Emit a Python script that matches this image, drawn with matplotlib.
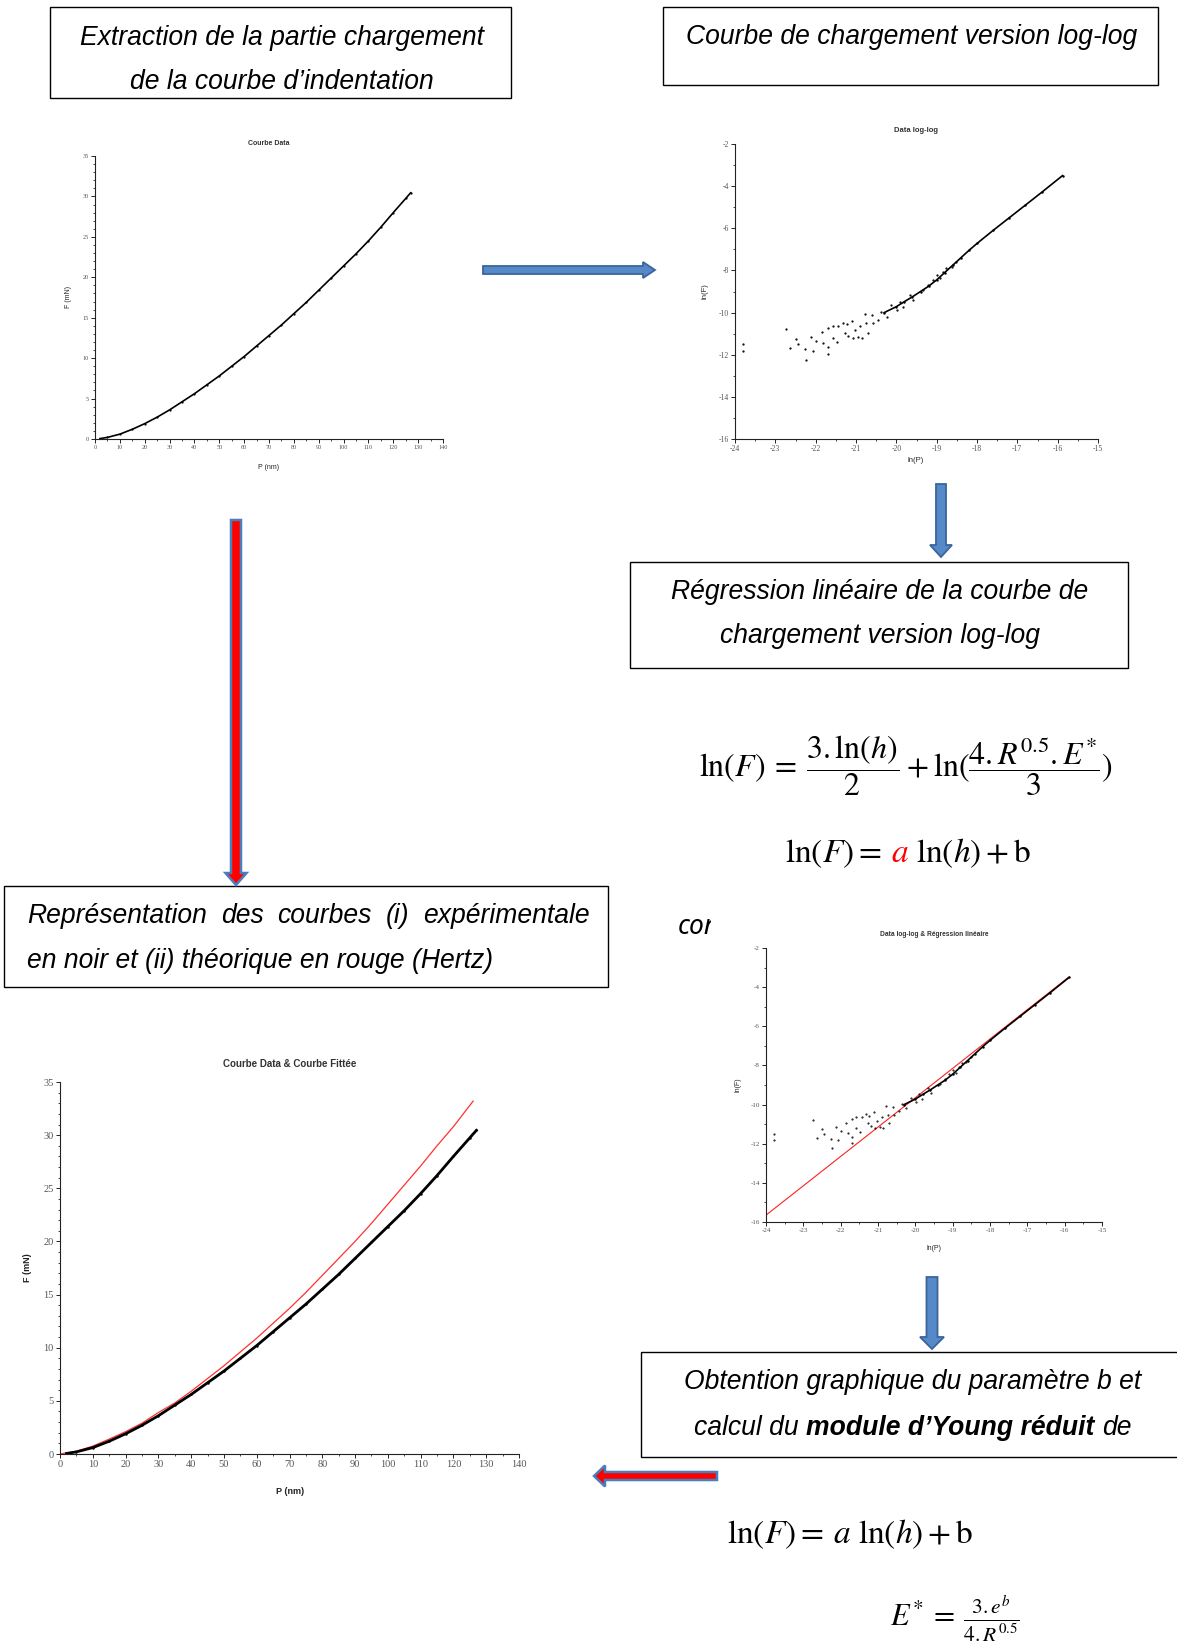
import matplotlib
matplotlib.use("Agg")
import matplotlib.pyplot as plt
import numpy as np
from matplotlib.patches import Rectangle, Polygon
from matplotlib.ticker import MultipleLocator

# ---- données ----
# courbe de chargement (P en nm, F en mN)
p_nm = [2, 5, 10, 15, 20, 25, 30, 35, 40, 45, 50, 55, 60, 65, 70, 75, 80,
        85, 90, 95, 100, 105, 110, 115, 120, 125, 127]
f_mn = [0.05, 0.2, 0.6, 1.2, 1.9, 2.7, 3.6, 4.6, 5.6, 6.7, 7.8, 9.0, 10.2,
        11.5, 12.8, 14.1, 15.5, 16.9, 18.4, 19.9, 21.4, 22.9, 24.5, 26.2,
        28.0, 29.75, 30.45]

# courbe théorique (Hertz)
p_fit = [0, 5, 10, 15, 20, 25, 30, 35, 40, 45, 50, 55, 60, 65, 70, 75, 80,
         85, 90, 95, 100, 105, 110, 115, 120, 126]
f_fit = [0, 0.26, 0.74, 1.4, 2.1, 2.9, 3.9, 4.8, 5.9, 7.1, 8.3, 9.6, 10.9,
         12.3, 13.7, 15.2, 16.8, 18.4, 20.0, 21.7, 23.5, 25.3, 27.1, 29.0,
         30.8, 33.2]

# log-log : partie dense
lnp_line = [-20.3, -20.0, -19.8, -19.6, -19.4, -19.2, -19.0, -18.8, -18.6,
            -18.4, -18.2, -18.0, -17.6, -17.2, -16.8, -16.4, -15.88]
lnf_line = [-10.0, -9.72, -9.48, -9.25, -9.0, -8.75, -8.45, -8.1, -7.75,
            -7.4, -7.05, -6.72, -6.1, -5.5, -4.9, -4.3, -3.5]

# log-log : points dispersés (faibles charges)
lnp_pts = [-23.79, -23.79, -22.74, -22.64, -22.49, -22.44, -22.24, -22.27,
           -22.12, -22.06, -21.98, -21.85, -21.81, -21.69, -21.69, -21.69,
           -21.58, -21.58, -21.48, -21.44, -21.32, -21.27, -21.23, -21.19,
           -21.11, -21.07, -21.03, -20.94, -20.9, -20.86, -20.78, -20.74,
           -20.7, -20.61, -20.57, -20.45, -20.37, -20.24, -20.12, -19.99,
           -19.91, -19.83, -19.66, -19.58, -19.33, -19.21, -19.09, -19.0,
           -18.92, -18.84, -18.76, -18.63, -18.51]
lnf_pts = [-11.5, -11.8, -10.78, -11.7, -11.26, -11.49, -12.24, -11.74,
           -11.17, -11.8, -11.33, -10.93, -11.45, -10.74, -11.64, -11.96,
           -10.63, -11.22, -11.42, -10.66, -10.48, -10.95, -10.56, -11.11,
           -10.38, -11.22, -10.82, -11.14, -10.66, -11.22, -10.07, -10.51,
           -10.95, -10.12, -10.51, -10.35, -9.95, -10.19, -9.64, -9.88,
           -9.48, -9.72, -9.17, -9.4, -8.93, -8.69, -8.46, -8.22, -8.38,
           -8.06, -7.9, -7.82, -7.59]

# droite de régression
lnp_reg = [-24.0, -15.9]
lnf_reg = [-15.65, -3.5]

plt.rcParams['font.family'] = ['Liberation Sans', 'DejaVu Sans']
plt.rcParams['mathtext.fontset'] = 'stix'
plt.rcParams['axes.unicode_minus'] = False

W, H = 1177, 1646
fig = plt.figure(figsize=(W / 100, H / 100), dpi=100)
bg = fig.add_axes([0, 0, 1, 1])
bg.set_xlim(0, W)
bg.set_ylim(H, 0)
bg.axis('off')
rend = fig.canvas.get_renderer()


def px_axes(x0, y0, x1, y1):
    return fig.add_axes([x0 / W, 1 - y1 / H, (x1 - x0) / W, (y1 - y0) / H])


def style_chart(ax, xlim, ylim, xmaj, xmin, ymaj, ymin, fs):
    ax.set_xlim(*xlim)
    ax.set_ylim(*ylim)
    ax.xaxis.set_major_locator(MultipleLocator(xmaj))
    ax.xaxis.set_minor_locator(MultipleLocator(xmin))
    ax.yaxis.set_major_locator(MultipleLocator(ymaj))
    ax.yaxis.set_minor_locator(MultipleLocator(ymin))
    for s in ('top', 'right'):
        ax.spines[s].set_visible(False)
    for s in ('left', 'bottom'):
        ax.spines[s].set_linewidth(0.8)
        ax.spines[s].set_color('#222222')
    ax.tick_params(which='major', direction='out', length=3, width=0.6,
                   labelsize=fs, labelcolor='#555555', pad=1.5,
                   labelfontfamily='Liberation Serif')
    ax.tick_params(which='minor', direction='out', length=1.6, width=0.5)


def chart_labels(cx, title_y, title, xlab_y, xlab, ylab_x, ylab_y, ylab,
                 fs_t, fs_l, bold_lab=False):
    w = 'bold' if bold_lab else 'normal'
    bg.text(cx, title_y, title, ha='center', va='center', fontsize=fs_t,
            fontweight='bold', color='#333333')
    bg.text(cx, xlab_y, xlab, ha='center', va='center', fontsize=fs_l,
            fontweight=w, color='#222222')
    bg.text(ylab_x, ylab_y, ylab, ha='center', va='center', fontsize=fs_l,
            fontweight=w, rotation=90, color='#222222')


# ---- graphe 1 : Courbe Data ----
ax1 = px_axes(95, 156, 443, 439)
ax1.plot(p_nm, f_mn, color='black', lw=1.2, marker='.', ms=1.2)
style_chart(ax1, (0, 140), (0, 35), 10, 5, 5, 1, 4.5)
chart_labels(269, 143, 'Courbe Data', 467, 'P (nm)', 68, 297, 'F (mN)', 5, 5)

# ---- graphe 2 : Data log-log ----
ax2 = px_axes(735, 144, 1098, 439)
ax2.plot(lnp_line, lnf_line, color='black', lw=1.2, marker='.', ms=1.5)
ax2.plot(lnp_pts, lnf_pts, ls='none', marker='.', ms=1.2, color='black')
style_chart(ax2, (-24, -15), (-16, -2), 1, 0.5, 2, 1, 5.5)
chart_labels(916, 130, 'Data log-log', 460, 'ln(P)', 705, 291, 'ln(F)', 5.5, 5.5)

# ---- graphe 3 : Data log-log & Régression linéaire ----
ax3 = px_axes(766, 948, 1102, 1222)
ax3.plot(lnp_reg, lnf_reg, color='#ff2020', lw=0.8)
ax3.plot(lnp_line, lnf_line, color='black', lw=1.2, marker='.', ms=1.5)
ax3.plot(lnp_pts, lnf_pts, ls='none', marker='.', ms=1.0, color='black')
style_chart(ax3, (-24, -15), (-16, -2), 1, 0.5, 2, 1, 5)
chart_labels(934, 934, 'Data log-log & Régression linéaire', 1248, 'ln(P)',
             738, 1085, 'ln(F)', 4.8, 5)

# ---- graphe 4 : Courbe Data & Courbe Fittée ----
ax4 = px_axes(60, 1082, 519, 1454)
ax4.plot(p_fit, f_fit, color='#ff3030', lw=0.9)
ax4.plot(p_nm, f_mn, color='black', lw=2.0, marker='.', ms=1.5)
style_chart(ax4, (0, 140), (0, 35), 10, 5, 5, 1, 7.5)
chart_labels(290, 1064, 'Courbe Data & Courbe Fittée', 1491, 'P (nm)',
             27, 1268, 'F (mN)', 7, 6.5, bold_lab=True)


# ---- cadres de texte ----
def box(x0, y0, x1, y1):
    bg.add_patch(Rectangle((x0, y0), x1 - x0, y1 - y0, fill=False,
                           ec='black', lw=1.0))


def width_of(t):
    return t.get_window_extent(renderer=rend).width


# taille de police ajustée sur la première ligne du premier cadre
probe = bg.text(0, 0, 'Extraction de la partie chargement', fontsize=10,
                style='italic')
FS = 10 * 405 / width_of(probe)
probe.remove()

kw = dict(fontsize=FS, style='italic', va='center')

box(50, 7, 511, 98)
bg.text(282, 38, 'Extraction de la partie chargement', ha='center', **kw)
bg.text(282, 82, 'de la courbe d’indentation', ha='center', **kw)

box(663, 7, 1158, 85)
bg.text(912, 37, 'Courbe de chargement version log-log', ha='center', **kw)

box(630, 562, 1128, 668)
bg.text(880, 592, 'Régression linéaire de la courbe de', ha='center', **kw)
bg.text(880, 636, 'chargement version log-log', ha='center', **kw)

box(4, 886, 608, 987)
words = ['Représentation', 'des', 'courbes', '(i)', 'expérimentale']
wt = [bg.text(0, 916, w, ha='left', **kw) for w in words]
ws = [width_of(t) for t in wt]
gap = (590 - 27 - sum(ws)) / (len(words) - 1)
x = 27
for t, w in zip(wt, ws):
    t.set_x(x)
    x += w + gap
bg.text(27, 961, 'en noir et (ii) théorique en rouge (Hertz)', ha='left', **kw)

box(641, 1352, 1190, 1457)
bg.text(913, 1382, 'Obtention graphique du paramètre b et', ha='center', **kw)
parts = [('calcul du', 'normal'), ('module d’Young réduit', 'bold'),
         ('de', 'normal')]
pt = [bg.text(0, 1428, s, ha='left', fontweight=fw, **kw) for s, fw in parts]
pw = [width_of(t) for t in pt]
sp = 0.28 * FS * 100 / 72
x = 913 - (sum(pw) + 2 * sp) / 2
for t, w in zip(pt, pw):
    t.set_x(x)
    x += w + sp

# texte tronqué sous le graphe 3
bg.text(678, 927, 'con', fontsize=19, style='italic', fontweight='bold',
        va='center', ha='left', family='Noto Sans')
bg.add_patch(Rectangle((711, 895), 50, 55, fc='white', ec='none', zorder=10))


# ---- flèches ----
def block_arrow(x0, y0, x1, y1, shaft, head, head_len, face, edge, lw=1.3):
    d = np.array([x1 - x0, y1 - y0], float)
    L = np.hypot(*d)
    u = d / L
    n = np.array([-u[1], u[0]])
    p0 = np.array([x0, y0], float)
    pb = p0 + u * (L - head_len)
    tip = np.array([x1, y1], float)
    pts = [p0 + n * shaft / 2, pb + n * shaft / 2, pb + n * head / 2, tip,
           pb - n * head / 2, pb - n * shaft / 2, p0 - n * shaft / 2]
    bg.add_patch(Polygon(pts, closed=True, fc=face, ec=edge, lw=lw,
                         joinstyle='miter'))


BLUE, BLUE_E, RED = '#5689c8', '#3a659c', '#ff0000'
block_arrow(483, 270, 655, 270, 8, 16, 12, BLUE, BLUE_E)
block_arrow(941, 484, 941, 557, 10, 22, 12, BLUE, BLUE_E)
block_arrow(932, 1277, 932, 1349, 11, 24, 12, BLUE, BLUE_E)
block_arrow(236, 520, 236, 885, 10, 21, 12, RED, '#4a7ebb', lw=1.8)
block_arrow(717, 1476, 594, 1476, 8, 21, 11, RED, '#4a7ebb', lw=1.8)


# ---- formules ----
def math_row(x, y, pieces, fs):
    for s, color, g in pieces:
        t = bg.text(x, y, s, color=color, fontsize=fs, va='baseline', ha='left')
        x += width_of(t) + g


bg.text(906, 777,
        r'$\ln(F)\:=\:\dfrac{3.\ln(h)}{2}\:+\:\ln(\dfrac{4.R^{0.5}.E^{*}}{3})$',
        fontsize=23, ha='center', va='baseline')
math_row(785, 862, [(r'$\ln(F) =$', 'black', 9), (r'$a$', '#ff0000', 7),
                    (r'$\ln(h) + \mathrm{b}$', 'black', 0)], 24)
math_row(727, 1543, [(r'$\ln(F) =$', 'black', 9), (r'$a$', 'black', 7),
                     (r'$\ln(h) + \mathrm{b}$', 'black', 0)], 24)
bg.text(890, 1627, r'$E^{*}\:=\:\frac{3.e^{b}}{4.R^{0.5}}$', fontsize=22,
        ha='left', va='baseline')

fig.savefig('out.png', dpi=100, facecolor='white')
